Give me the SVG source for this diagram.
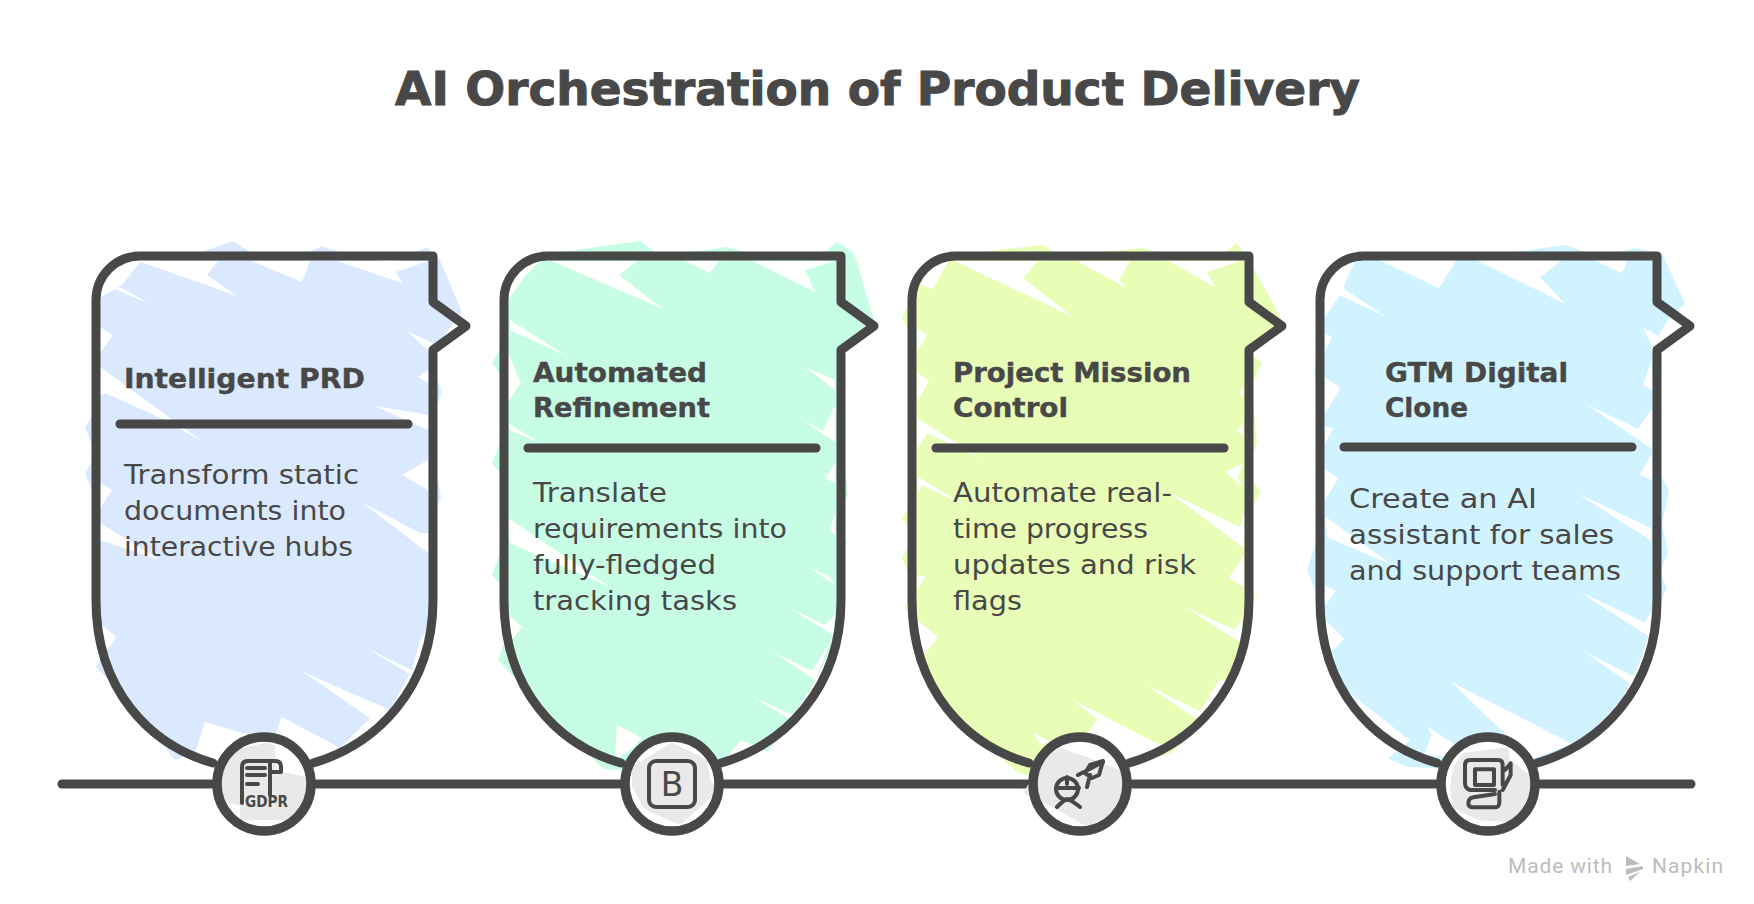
<svg xmlns="http://www.w3.org/2000/svg" width="1754" height="904" viewBox="0 0 1754 904">
<style>
text{font-family:"DejaVu Sans","Noto Sans",sans-serif;fill:#484848}
.title{font-size:46px;font-weight:700;stroke:#484848;stroke-width:1}
.head{font-size:26px;font-weight:700;stroke:#484848;stroke-width:.4}
.body{font-size:26px;font-weight:400}
.wm{font-family:"Roboto",sans-serif;font-size:21px;fill:#bdbdbd}
.ln{fill:none;stroke:#484848;stroke-width:9;stroke-linecap:round;stroke-linejoin:round}
.disc{fill:#fff}
.ring{fill:none;stroke:#484848;stroke-width:9.5}
.gray{fill:#e9e9e9}
.ic{fill:none;stroke:#484848;stroke-width:4;stroke-linecap:round;stroke-linejoin:round}
.slit{fill:#fff}
</style>
<defs>
<path id="outline" class="ln" d="M213 763C150 745 96 690 96 600L96 300A44 44 0 0 1 140 256L433 256L433 302L466 326L433 350L433 600C433 690 375 745 313 763"/>
</defs>

<text class="title" x="395" y="105" textLength="965" lengthAdjust="spacingAndGlyphs">AI Orchestration of Product Delivery</text>

<g id="connectors">
<path class="ln" d="M62 784L1691 784"/>
</g>

<g id="node-1">
<path fill="#dbe9fe" d="M122 285L140 262L190 256L233 241L250 252L300 256L322 246L350 256L395 262L427 247L440 260L462 312L450 328L432 352L434 372L442 392L437 405L436 470L441 497L436 510L436 600L433 622L420 640L412 670L390 710L370 718L340 748L282 717L273 742L205 722L195 753L175 760L130 702L96 667L116 637L102 625L96 610L96 500L85 473L96 455L85 427L96 410L96 300Z"/>
<path class="slit" d="M138 261L237 296L207 275L218 261ZM252 261L302 282L310 261ZM337 261L402 283L396 272L428 261ZM110 287L150 304L122 288ZM100 327L113 335L100 353ZM100 367L203 442L165 420L105 393L100 395ZM375 406L428 430L428 415ZM407 331L428 350L433 343ZM418 377L428 383L428 370ZM402 475L428 490L428 460ZM363 503L420 533L428 533L428 553ZM100 483L112 490L100 508ZM100 523L160 560L100 540ZM368 649L412 670L413 676ZM303 672L370 718L390 710ZM100 625L116 637L100 660Z"/>
<use href="#outline"/>
<path class="ln" d="M120 424L408 424"/>
<text class="head" x="124" y="388" textLength="241" lengthAdjust="spacingAndGlyphs">Intelligent PRD</text>
<text class="body" x="124" y="484" textLength="235" lengthAdjust="spacingAndGlyphs">Transform static</text>
<text class="body" x="124" y="520" textLength="222" lengthAdjust="spacingAndGlyphs">documents into</text>
<text class="body" x="124" y="556" textLength="229" lengthAdjust="spacingAndGlyphs">interactive hubs</text>
<circle class="disc" cx="264" cy="784" r="47"/>
<path class="gray" d="M265 743L275 745L276 770L305 777L317 792L297 820L240 820L240 805L220 802L218 773L235 750Z"/>
<circle class="ring" cx="264" cy="784" r="47"/>
<path class="ic" d="M242 803L242 767Q242 761 248 761L275 761Q281 761 281 767L281 772L270 772M270 761L270 795M247 768L265 768M247 775L265 775M247 784L258 784"/>
<text x="245" y="807" font-size="16" font-weight="700" textLength="43" lengthAdjust="spacingAndGlyphs">GDPR</text>
</g>

<g id="node-2">
<path fill="#c8fde5" d="M508 300L540 255L640 241L660 256L727 247L760 256L820 256L837 242L854 253L875 323L845 350L841 440L848 495L838 520L847 542L838 560L836 640L810 690L790 720L768 752L720 765L672 780L620 770L603 769L498 660L505 640L498 606L505 590L492 575L505 540L505 480L492 463L505 430L505 380L492 363L505 340Z"/>
<path class="slit" d="M552 261L663 309L619 275L637 261ZM685 261L710 273L718 261ZM753 261L815 292L805 270L835 261ZM510 320L565 355L510 330ZM508 300L523 278L540 261L515 261ZM508 353L521 383L508 402ZM508 423L540 443L510 430ZM805 367L835 380L835 390ZM802 420L823 431L835 405L835 442ZM825 478L835 463L835 483ZM830 530L835 513L835 535ZM810 568L830 577L835 585ZM790 608L825 625L835 615L833 635ZM773 652L812 671L833 637L815 680ZM753 697L793 715L788 718ZM617 725L642 738L630 750L615 760ZM508 518L610 587L510 543ZM508 615L529 632L522 627L508 645ZM722 764L741 740L768 752L745 760Z"/>
<use href="#outline" transform="translate(408 0)"/>
<path class="ln" d="M528 448L816 448"/>
<text class="head" x="533" y="382" textLength="174" lengthAdjust="spacingAndGlyphs">Automated</text>
<text class="head" x="533" y="417" textLength="177" lengthAdjust="spacingAndGlyphs">Refinement</text>
<text class="body" x="533" y="502" textLength="134" lengthAdjust="spacingAndGlyphs">Translate</text>
<text class="body" x="533" y="538" textLength="254" lengthAdjust="spacingAndGlyphs">requirements into</text>
<text class="body" x="533" y="574" textLength="183" lengthAdjust="spacingAndGlyphs">fully-fledged</text>
<text class="body" x="533" y="610" textLength="204" lengthAdjust="spacingAndGlyphs">tracking tasks</text>
<circle class="disc" cx="672" cy="784" r="47"/>
<path class="gray" d="M632 767L672 742L707 760L710 780L720 790L680 825L650 812L643 807L632 787Z"/>
<circle class="ring" cx="672" cy="784" r="47"/>
<rect class="ic" x="649" y="761" width="46" height="46" rx="7"/>
<text x="672" y="796" font-size="33" font-weight="400" text-anchor="middle">B</text>
</g>

<g id="node-3">
<path fill="#e8fdb6" d="M917 285L945 256L1043 245L1060 256L1143 248L1170 256L1220 256L1237 243L1253 267L1282 320L1262 335L1245 352L1262 362L1252 385L1257 443L1247 470L1260 492L1247 520L1246 560L1255 597L1244 620L1240 660L1215 710L1173 752L1120 770L1080 790L1017 772L957 717L917 660L912 620L905 607L914 590L902 558L914 535L902 518L914 500L914 340L902 318Z"/>
<path class="slit" d="M955 261L1073 317L1023 278L1038 261ZM1077 261L1128 289L1119 280L1130 261ZM1168 261L1215 287L1207 272L1240 261ZM917 283L933 289L948 262L930 262ZM917 328L927 335L917 352ZM917 372L929 381L917 402ZM917 418L980 458L927 433L917 450ZM918 477L968 507L922 485L918 493ZM1225 472L1243 487L1238 478L1243 463ZM1240 393L1243 387L1243 397ZM1238 430L1243 422L1243 435ZM1170 493L1240 527L1245 510L1244 548ZM1229 578L1244 555L1244 587ZM1185 607L1235 630L1242 618L1241 643ZM1148 686L1200 711L1220 679L1237 687L1228 707L1195 718ZM1073 700L1162 746L1130 770L1078 747L1097 719ZM1033 732L1050 742L1040 745ZM917 575L925 577L917 590ZM917 620L938 637L923 657L917 640Z"/>
<use href="#outline" transform="translate(816 0)"/>
<path class="ln" d="M936 448L1224 448"/>
<text class="head" x="953" y="382" textLength="238" lengthAdjust="spacingAndGlyphs">Project Mission</text>
<text class="head" x="953" y="417" textLength="115" lengthAdjust="spacingAndGlyphs">Control</text>
<text class="body" x="953" y="502" textLength="219" lengthAdjust="spacingAndGlyphs">Automate real-</text>
<text class="body" x="953" y="538" textLength="195" lengthAdjust="spacingAndGlyphs">time progress</text>
<text class="body" x="953" y="574" textLength="243" lengthAdjust="spacingAndGlyphs">updates and risk</text>
<text class="body" x="953" y="610" textLength="69" lengthAdjust="spacingAndGlyphs">flags</text>
<circle class="disc" cx="1080" cy="784" r="47"/>
<path class="gray" d="M1060 748L1087 757L1120 770L1133 790L1113 813L1087 827L1055 808L1023 793L1043 760Z"/>
<circle class="ring" cx="1080" cy="784" r="47"/>
<path class="ic" d="M1056 788L1079 788M1067 777L1067 784M1057 807Q1067 797 1067 800Q1067 797 1080 807M1078 775L1103 762M1085 773L1090 765L1103 761L1099 775L1092 778ZM1090 775L1087 787"/>
<circle class="ic" cx="1067" cy="789" r="11"/>
</g>

<g id="node-4">
<g transform="matrix(1 0 0 1.0526 0 -12.1)">
<path fill="#d0f3ff" d="M1325 300L1350 258L1480 256L1565 244L1600 256L1635 247L1662 252L1685 300L1668 315L1650 345L1662 350L1660 400L1660 460L1669 478L1662 510L1668 536L1660 555L1667 570L1657 590L1640 640L1620 680L1575 722L1500 745L1407 740L1388 732L1410 715L1350 670L1325 640L1318 580L1307 553L1318 520L1318 400L1314 363L1320 340Z"/>
<path class="slit" d="M1378 258L1445 288L1439 285L1457 258ZM1475 258L1565 300L1540 275L1563 258ZM1593 258L1622 271L1628 258ZM1325 313L1340 292L1385 312L1343 285L1355 259L1337 267L1325 287ZM1325 328L1332 332L1325 345ZM1325 370L1340 380L1325 405ZM1325 417L1333 418L1325 433ZM1325 457L1338 466L1325 487ZM1325 502L1392 548L1327 522ZM1325 567L1336 573L1325 587ZM1325 600L1344 618L1328 635ZM1643 323L1662 332L1652 340ZM1652 353L1643 377L1652 382ZM1587 396L1638 419L1652 400L1652 438ZM1640 462L1652 442L1652 468ZM1577 480L1651 513L1651 525ZM1580 574L1645 603L1651 593L1650 617ZM1585 631L1635 655L1633 663ZM1452 660L1572 718L1533 732L1490 695ZM1427 702L1457 720L1447 730L1423 730L1432 710Z"/>
</g>
<use href="#outline" transform="translate(1224 0)"/>
<path class="ln" d="M1344 447L1632 447"/>
<text class="head" x="1385" y="382" textLength="183" lengthAdjust="spacingAndGlyphs">GTM Digital</text>
<text class="head" x="1385" y="417" textLength="83" lengthAdjust="spacingAndGlyphs">Clone</text>
<text class="body" x="1349" y="508" textLength="188" lengthAdjust="spacingAndGlyphs">Create an AI</text>
<text class="body" x="1349" y="544" textLength="265" lengthAdjust="spacingAndGlyphs">assistant for sales</text>
<text class="body" x="1349" y="580" textLength="272" lengthAdjust="spacingAndGlyphs">and support teams</text>
<circle class="disc" cx="1488" cy="784" r="47"/>
<path class="gray" d="M1453 767L1463 753L1508 747L1510 760L1530 775L1537 788L1520 823L1478 820L1453 808L1450 787Z"/>
<circle class="ring" cx="1488" cy="784" r="47"/>
<g transform="translate(1420 720) scale(.3333)"><path class="ic" style="stroke-width:12" d="M150 210Q135 205 135 190L135 135Q135 120 150 120L235 120Q248 120 248 135L248 195M150 210L225 210M225 222L160 232Q145 235 145 250Q145 262 160 262L225 262Q240 262 238 240L238 215M255 150L272 130L272 165L248 210"/><rect class="ic" style="stroke-width:12" x="165" y="148" width="57" height="47"/></g>
</g>

<g id="watermark">
<text class="wm" x="1508" y="873" textLength="104">Made with</text>
<path fill="#bdbdbd" d="M1626 856L1640 864L1626 866ZM1626 869L1643 866L1643 869L1626 875ZM1628 877L1640 872L1630 881Z"/>
<text class="wm" x="1652" y="873" textLength="71">Napkin</text>
</g>
</svg>
